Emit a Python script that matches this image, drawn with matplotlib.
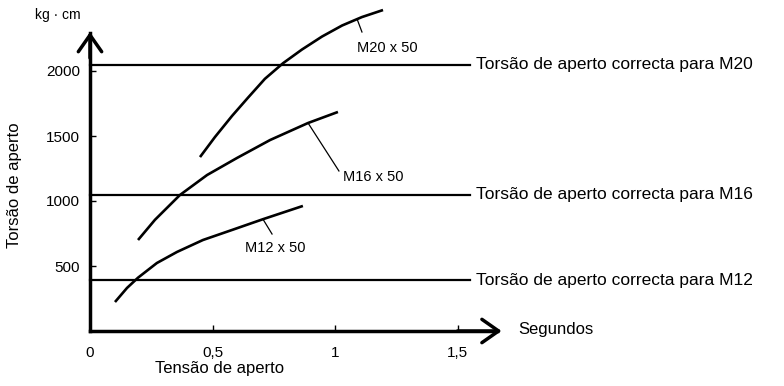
import matplotlib
matplotlib.use("Agg")
import matplotlib.pyplot as plt

plt.rcParams['font.family'] = ['Liberation Sans', 'DejaVu Sans']

# curves (seconds, kg*cm)
m20_x = [0.449, 0.510, 0.580, 0.645, 0.714, 0.788, 0.865, 0.947, 1.029, 1.110, 1.196]
m20_y = [1338, 1492, 1655, 1795, 1940, 2060, 2165, 2265, 2350, 2415, 2469]
m16_x = [0.196, 0.265, 0.367, 0.478, 0.600, 0.735, 0.890, 1.012]
m16_y = [700, 855, 1046, 1200, 1331, 1469, 1600, 1685]
m12_x = [0.102, 0.151, 0.196, 0.273, 0.355, 0.461, 0.584, 0.706, 0.869]
m12_y = [223, 331, 410, 523, 608, 700, 780, 860, 962]

curve_names = ["M20 x 50", "M16 x 50", "M12 x 50"]
# leader start on curve, leader end, label anchor
leaders = [((1.090, 2400), (1.110, 2300), (1.090, 2177)),
           ((0.890, 1600), (1.016, 1231), (1.033, 1185)),
           ((0.706, 860), (0.743, 746), (0.633, 638))]

correct_torque = [2050, 1050, 390]
correct_labels = ["Torsão de aperto correcta para M20",
                  "Torsão de aperto correcta para M16",
                  "Torsão de aperto correcta para M12"]

xticks = [0, 0.5, 1, 1.5]
xtick_labels = ["0", "0,5", "1", "1,5"]
yticks = [500, 1000, 1500, 2000]
ytick_labels = ["500", "1000", "1500", "2000"]

fig = plt.figure(figsize=(7.84, 3.86), dpi=100)
ax = fig.add_axes([0, 0, 1, 1])
ax.set_xlim(-90 / 245, 694 / 245)
ax.set_ylim(-55 / 0.13, 331 / 0.13)
ax.patch.set_alpha(0)

for s in ["top", "right"]:
    ax.spines[s].set_visible(False)
ax.spines["left"].set_position(("data", 0))
ax.spines["bottom"].set_position(("data", 0))
ax.spines["left"].set_bounds(0, 2290)
ax.spines["bottom"].set_bounds(0, 1.66)
ax.spines["left"].set_linewidth(2.5)
ax.spines["bottom"].set_linewidth(2.5)

arrow = dict(arrowstyle="->,head_length=0.6,head_width=0.42", lw=2.5,
             color="black", mutation_scale=20, shrinkA=0, shrinkB=0)
ax.annotate("", xy=(1.68, 0), xytext=(1.5, 0), arrowprops=arrow)
ax.annotate("", xy=(0, 2300), xytext=(0, 2100), arrowprops=arrow)

ax.set_xticks(xticks)
ax.set_xticklabels(xtick_labels)
ax.set_yticks(yticks)
ax.set_yticklabels(ytick_labels)
ax.tick_params(axis="x", direction="in", length=4, width=1, pad=11, labelsize=11)
ax.tick_params(axis="y", direction="in", length=4, width=1, pad=7, labelsize=11)

for y, lab in zip(correct_torque, correct_labels):
    ax.plot([0, 1.55], [y, y], color="black", lw=1.6)
    ax.text(1.576, y, lab, fontsize=12.5, va="center", ha="left")

for xs, ys in [(m20_x, m20_y), (m16_x, m16_y), (m12_x, m12_y)]:
    ax.plot(xs, ys, color="black", lw=1.9, solid_capstyle="butt",
            solid_joinstyle="round")

for name, (p0, p1, lab) in zip(curve_names, leaders):
    ax.plot([p0[0], p1[0]], [p0[1], p1[1]], color="black", lw=0.9)
    ax.text(lab[0], lab[1], name, fontsize=10.5, va="center", ha="left")

ax.text(-0.31, 1123, "Torsão de aperto", rotation=90, fontsize=12,
        va="center", ha="center")
ax.text(0.53, -285, "Tensão de aperto", fontsize=12, va="center", ha="center")
ax.text(1.747, 8, "Segundos", fontsize=12, va="center", ha="left")
ax.text(-0.131, 2430, "kg · cm", fontsize=10, va="center", ha="center")

fig.savefig("out.png", dpi=100)
